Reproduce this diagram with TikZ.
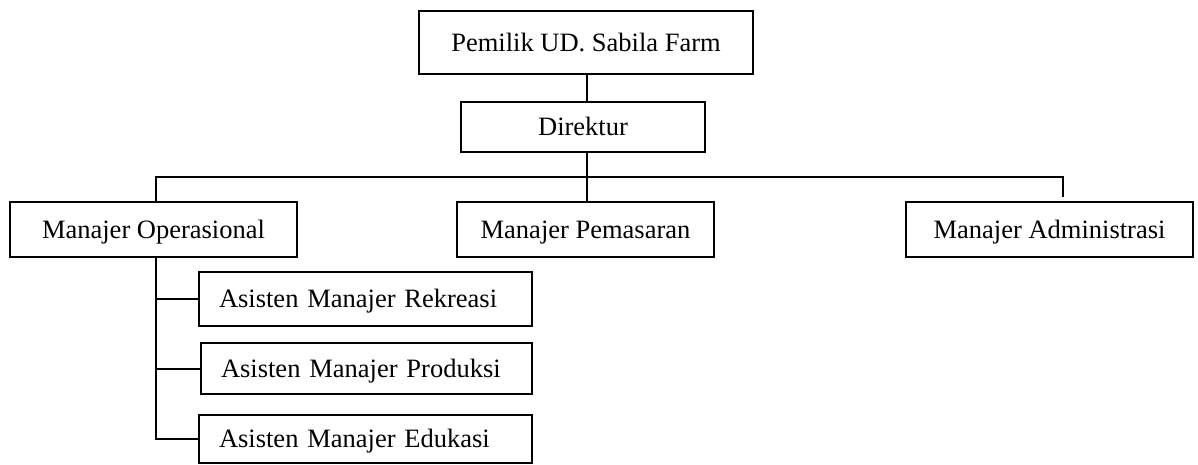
\documentclass[tikz,border=0pt]{standalone}
\usepackage{fontspec}
\setmainfont{Liberation Serif}
\begin{document}
\begin{tikzpicture}[x=1pt,y=-1pt,
  box/.style={draw,line width=1.4pt,rectangle,inner sep=0pt,outer sep=0pt,
    font=\fontsize{26.5}{30}\selectfont,text height=24pt,text depth=6.5pt},
  subbox/.style={box,align=left,inner xsep=20pt},
  link/.style={line width=2pt}]
\useasboundingbox (0,0) rectangle (1198,464);
\node[box,minimum width=334pt,minimum height=63pt] (pemilik) at (586,42.5) {Pemilik UD. Sabila Farm};
\node[box,minimum width=244pt,minimum height=50pt] (direktur) at (583,127) {Direktur};
\node[box,minimum width=287pt,minimum height=55pt] (op) at (153.5,229.5) {Manajer Operasional};
\node[box,minimum width=257pt,minimum height=55pt] (pem) at (585.5,229.5) {Manajer Pemasaran};
\node[box,minimum width=287pt,minimum height=55pt] (adm) at (1049.5,229.5) {Manajer Administrasi};
\node[subbox,text width=293pt,minimum height=54pt] (rek) at (365.5,299) {Asisten Manajer Rekreasi};
\node[subbox,text width=291pt,minimum height=51pt] (pro) at (366.5,368.5) {Asisten Manajer Produksi};
\node[subbox,text width=293pt,minimum height=48pt] (edu) at (365.5,439) {Asisten Manajer Edukasi};
\coordinate (spine) at (587,0);
\coordinate (barL) at (156,177);
\coordinate (barR) at (1063,177);
\coordinate (admtop) at (1063,197);
\draw[link] (pemilik.south -| spine) -- (direktur.north -| spine);
\draw[link] (direktur.south -| spine) -- (pem.north -| spine);
\draw[link] (op.north -| barL) -- (barL) -- (barR) -- (admtop);
\draw[link] (op.south -| barL) |- (edu.west);
\draw[link] (rek.west -| barL) -- (rek.west);
\draw[link] (pro.west -| barL) -- (pro.west);
\end{tikzpicture}
\end{document}
